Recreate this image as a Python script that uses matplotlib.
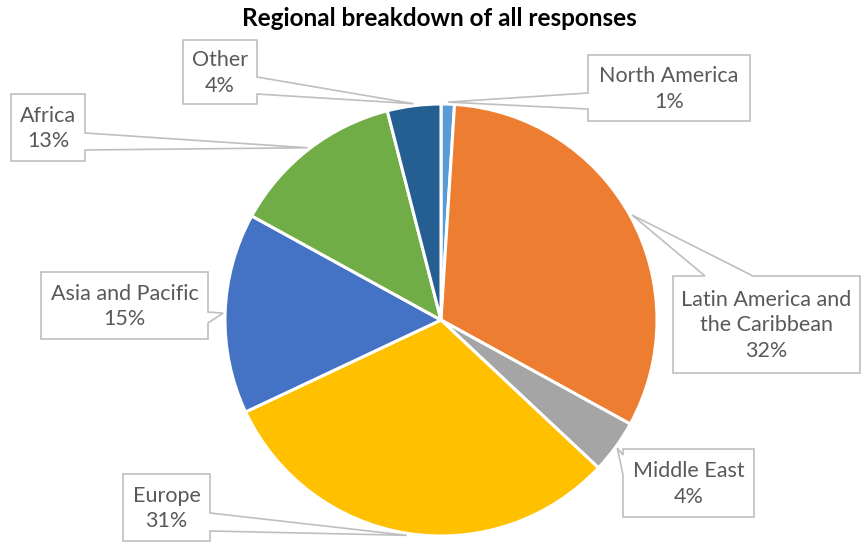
import numpy as np
import matplotlib
matplotlib.use("Agg")
import matplotlib.pyplot as plt
from matplotlib.patches import Polygon

# Share of responses by region (percent), clockwise from the top
regions = ["North America", "Latin America and\nthe Caribbean", "Middle East",
           "Europe", "Asia and Pacific", "Africa", "Other"]
shares = [1, 32, 4, 31, 15, 13, 4]
colors = ["#5B9BD5", "#ED7D31", "#A5A5A5", "#FFC000", "#4472C4", "#70AD47", "#255E91"]

# Callout boxes in pixel space: (x0, y0, x1, y1), side of the pointer, pointer base
boxes = [
    ((588, 55, 750, 121), "left", (93, 109)),
    ((673, 276, 860, 373), "top", (705, 753)),
    ((623, 449, 754, 517), "left", (455, 475)),
    ((123, 474, 210, 541), "right", (513, 531)),
    ((41, 272, 208, 339), "right", (312, 323)),
    ((11, 94, 85, 161), "right", (133, 150)),
    ((183, 40, 257, 104), "right", (77, 94)),
]

W, H = 862, 542
cx, cy, R = 441, 320, 216

plt.rcParams["font.family"] = ["Lato", "DejaVu Sans"]

fig = plt.figure(figsize=(W / 100, H / 100), dpi=100)
ax = fig.add_axes([0, 0, 1, 1])

ax.pie(shares, colors=colors, startangle=-90, counterclock=True, radius=R,
       center=(cx, cy), frame=True,
       wedgeprops=dict(edgecolor="white", linewidth=2.2))
ax.set_xlim(0, W)
ax.set_ylim(H, 0)
ax.set_aspect("equal")
ax.axis("off")


def callout(box, side, base, tip):
    x0, y0, x1, y1 = box
    a, b = base
    pts = [(x0, y0)]
    if side == "top":
        pts += [(a, y0), tip, (b, y0)]
    pts.append((x1, y0))
    if side == "right":
        pts += [(x1, a), tip, (x1, b)]
    pts.append((x1, y1))
    if side == "bottom":
        pts += [(b, y1), tip, (a, y1)]
    pts.append((x0, y1))
    if side == "left":
        pts += [(x0, b), tip, (x0, a)]
    return Polygon(pts, closed=True, facecolor="white", edgecolor="#BFBFBF",
                   linewidth=1.2, zorder=3)


cum = np.cumsum([0] + shares) / sum(shares)
for i, (name, val) in enumerate(zip(regions, shares)):
    mid = (cum[i] + cum[i + 1]) / 2
    ang = np.deg2rad(-90 + 360 * mid)
    tip = (cx + (R + 2) * np.cos(ang), cy + (R + 2) * np.sin(ang))
    box, side, base = boxes[i]
    ax.add_patch(callout(box, side, base, tip))
    ax.text((box[0] + box[2]) / 2, (box[1] + box[3]) / 2 + 1, f"{name}\n{val}%",
            ha="center", va="center", fontsize=15.5, color="#595959",
            linespacing=1.33, zorder=4)

ax.text(439, 18, "Regional breakdown of all responses", ha="center", va="center",
        fontsize=17.5, fontweight="bold", color="black")

fig.savefig("out.png", dpi=100)
